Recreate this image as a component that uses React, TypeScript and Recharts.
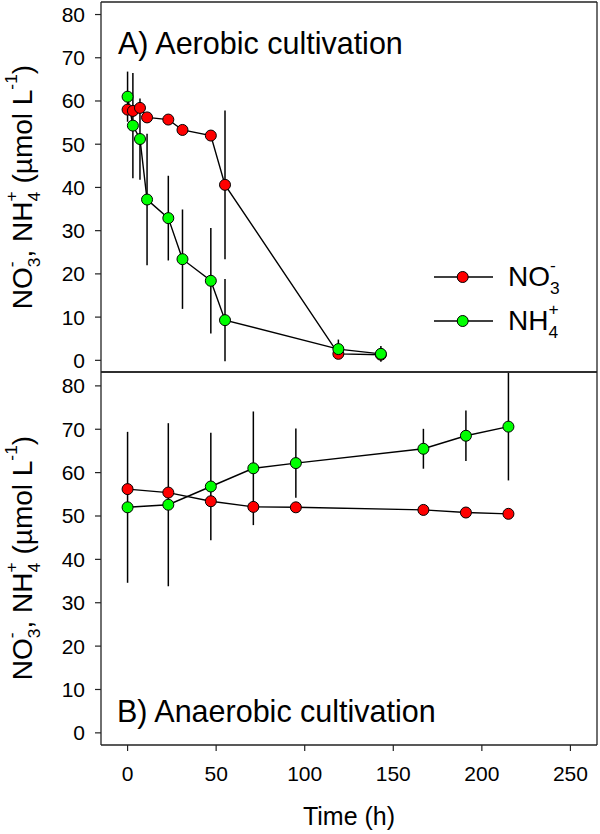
import React from 'react';
import { LineChart, Line, XAxis, YAxis, ErrorBar, Legend, Label } from 'recharts';

// ---- Data ----
const timeA = [0, 3, 7, 11, 23, 31, 47, 55, 119, 143];
const no3A = [58.0, 57.7, 58.4, 56.2, 55.7, 53.3, 52.0, 40.6, 1.5, 1.3];
const no3AErr = [0, 0, 0, 0, 0, 0, 0, 17.2, 0.5, 0.5];
const nh4A = [61.0, 54.3, 51.2, 37.2, 32.9, 23.4, 18.4, 9.3, 2.6, 1.5];
const nh4AErr = [5.8, 12.2, 9.4, 15.2, 9.8, 11.5, 12.2, 9.5, 2.2, 1.8];

const timeB = [0, 23, 47, 71, 95, 167, 191, 215];
const no3B = [56.2, 55.4, 53.4, 52.1, 52.0, 51.4, 50.8, 50.5];
const no3BErr = [0, 0, 0, 0, 0, 0, 0, 0];
const nh4B = [52.0, 52.6, 56.8, 61.0, 62.2, 65.5, 68.5, 70.6];
const nh4BErr = [17.4, 18.8, 12.4, 13.1, 8.0, 4.6, 5.8, 12.4];

const xTicks = [0, 50, 100, 150, 200, 250];
const yTicks = [0, 10, 20, 30, 40, 50, 60, 70, 80];

const dataA = timeA.map((t, i) => ({ t, no3: no3A[i], no3Err: no3AErr[i], nh4: nh4A[i], nh4Err: nh4AErr[i] }));
const dataB = timeB.map((t, i) => ({ t, no3: no3B[i], no3Err: no3BErr[i], nh4: nh4B[i], nh4Err: nh4BErr[i] }));

const FONT = '"Liberation Sans", Arial, sans-serif';
const FRAME = '#222';
const RED = '#ff0000';
const GREEN = '#00ff00';

const Stack = ({ first, second, firstUp }: { first: string; second: string; firstUp: boolean }) => {
  const up: React.CSSProperties = { position: 'relative', top: '-0.85em', lineHeight: 1 };
  const down: React.CSSProperties = { position: 'relative', top: '0.46em', lineHeight: 1 };
  return (
    <span style={{ fontSize: '0.62em', lineHeight: 1 }}>
      <span style={{ ...(firstUp ? up : down), display: 'inline-block', width: 0, overflow: 'visible', whiteSpace: 'nowrap' }}>{first}</span>
      <span style={firstUp ? down : up}>{second}</span>
    </span>
  );
};
const Sup = ({ children }: { children: string }) => (
  <span style={{ fontSize: '0.62em', position: 'relative', top: '-0.85em', lineHeight: 1 }}>{children}</span>
);

const NO3 = () => (<span>NO<Stack first="-" second="3" firstUp={true} /></span>);
const NH4 = () => (<span>NH<Stack first="4" second="+" firstUp={false} /></span>);

const YLabel = ({ cy }: { cy: number }) => (
  <div
    style={{
      position: 'absolute', left: 22.7 - 200, top: cy - 16, width: 400, height: 32,
      lineHeight: '32px', fontSize: 28, textAlign: 'center', transform: 'rotate(-90deg)',
      whiteSpace: 'nowrap', fontFamily: FONT, color: '#000',
    }}
  >
    <NO3 />, <NH4 /> (µmol L<Sup>-1</Sup>)
  </div>
);

const legendContent = () => (
  <div style={{ fontFamily: FONT, fontSize: 28, color: '#000' }}>
    {[{ c: RED, l: <NO3 /> }, { c: GREEN, l: <NH4 /> }].map((it, i) => (
      <div key={i} style={{ height: 44, display: 'flex', alignItems: 'flex-start' }}>
        <svg width={60} height={44} style={{ display: 'block' }}>
          <line x1={0} y1={22} x2={59} y2={22} stroke="#000" strokeWidth={1.4} />
          <circle cx={28.7} cy={22} r={5.5} fill={it.c} stroke="#000" strokeWidth={1} />
        </svg>
        <span style={{ marginLeft: 14, lineHeight: '44px', whiteSpace: 'nowrap' }}>{it.l}</span>
      </div>
    ))}
  </div>
);

const dotStyle = (fill: string) => ({ r: 5.5, fill, stroke: '#000', strokeWidth: 1 });
const tickFont = { fontSize: 21, fill: '#000', fontFamily: FONT };
const axisLineStyle = { stroke: FRAME, strokeWidth: 1.3 };
const tickLineStyle = { stroke: FRAME, strokeWidth: 1.2 };

export default function App() {
  return (
    <div style={{ position: 'absolute', left: 0, top: 0, width: 600, height: 834, fontFamily: FONT, background: '#fff' }}>
      <div style={{ position: 'absolute', left: 0, top: 0 }}>
        <LineChart width={600} height={380} data={dataA} margin={{ top: 2, right: 3, bottom: 8, left: 0 }}>
          <XAxis xAxisId="b" dataKey="t" type="number" domain={[-15, 265]} ticks={xTicks} allowDataOverflow
            orientation="bottom" mirror height={1} tick={false} tickSize={4}
            axisLine={axisLineStyle} tickLine={tickLineStyle} />
          <XAxis xAxisId="t" dataKey="t" type="number" domain={[-15, 265]} ticks={xTicks} allowDataOverflow
            orientation="top" mirror height={1} tick={false} tickSize={5}
            axisLine={axisLineStyle} tickLine={tickLineStyle} />
          <YAxis yAxisId="l" type="number" domain={[-2.7, 82.9]} ticks={yTicks} allowDataOverflow width={101}
            tickSize={6} tickMargin={10} tick={tickFont}
            axisLine={axisLineStyle} tickLine={tickLineStyle} />
          <YAxis yAxisId="r" orientation="right" mirror type="number" domain={[0, 1]} width={1} tick={false} tickLine={false}
            axisLine={axisLineStyle} />
          <Line xAxisId="b" yAxisId="l" dataKey="no3" stroke="#000" strokeWidth={1.4} isAnimationActive={false}
            dot={dotStyle(RED)} activeDot={false}>
            <ErrorBar dataKey="no3Err" direction="y" width={0} stroke="#000" strokeWidth={1.5} />
          </Line>
          <Line xAxisId="b" yAxisId="l" dataKey="nh4" stroke="#000" strokeWidth={1.4} isAnimationActive={false}
            dot={dotStyle(GREEN)} activeDot={false}>
            <ErrorBar dataKey="nh4Err" direction="y" width={0} stroke="#000" strokeWidth={1.5} />
          </Line>
          <Legend layout="vertical" align="center" verticalAlign="middle" content={legendContent}
            wrapperStyle={{ left: 434, top: 255, width: 165 }} />
        </LineChart>
      </div>
      <div style={{ position: 'absolute', left: 0, top: 0 }}>
        <LineChart width={600} height={834} data={dataB} margin={{ top: 372, right: 3, bottom: 0, left: 0 }}>
          <XAxis xAxisId="b" dataKey="t" type="number" domain={[-15, 265]} ticks={xTicks} allowDataOverflow
            orientation="bottom" height={89} tickSize={6} tickMargin={15} tick={tickFont}
            axisLine={axisLineStyle} tickLine={tickLineStyle}>
            <Label value="Time (h)" position="insideBottom" offset={9} style={{ fontSize: 25, fill: '#000', fontFamily: FONT }} />
          </XAxis>
          <XAxis xAxisId="t" dataKey="t" type="number" domain={[-15, 265]} ticks={xTicks} allowDataOverflow
            orientation="top" mirror height={1} tick={false} tickSize={6}
            axisLine={axisLineStyle} tickLine={tickLineStyle} />
          <YAxis yAxisId="l" type="number" domain={[-2.8, 83.2]} ticks={yTicks} allowDataOverflow width={101}
            tickSize={6} tickMargin={10} tick={tickFont}
            axisLine={axisLineStyle} tickLine={tickLineStyle} />
          <YAxis yAxisId="r" orientation="right" mirror type="number" domain={[0, 1]} width={1} tick={false} tickLine={false}
            axisLine={axisLineStyle} />
          <Line xAxisId="b" yAxisId="l" dataKey="no3" stroke="#000" strokeWidth={1.4} isAnimationActive={false}
            dot={dotStyle(RED)} activeDot={false}>
            <ErrorBar dataKey="no3Err" direction="y" width={0} stroke="#000" strokeWidth={1.5} />
          </Line>
          <Line xAxisId="b" yAxisId="l" dataKey="nh4" stroke="#000" strokeWidth={1.4} isAnimationActive={false}
            dot={dotStyle(GREEN)} activeDot={false}>
            <ErrorBar dataKey="nh4Err" direction="y" width={0} stroke="#000" strokeWidth={1.5} />
          </Line>
        </LineChart>
      </div>
      <div style={{ position: 'absolute', left: 118, top: 28, fontSize: 30.5, lineHeight: '30px', whiteSpace: 'nowrap', color: '#000' }}>
        A) Aerobic cultivation
      </div>
      <div style={{ position: 'absolute', left: 117, top: 696, fontSize: 30.5, lineHeight: '30px', whiteSpace: 'nowrap', color: '#000' }}>
        B) Anaerobic cultivation
      </div>
      <YLabel cy={187} />
      <YLabel cy={558} />
    </div>
  );
}
